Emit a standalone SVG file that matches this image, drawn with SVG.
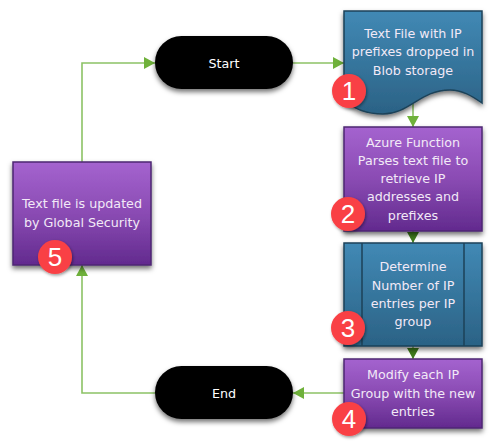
<svg xmlns="http://www.w3.org/2000/svg" width="498" height="441" viewBox="0 0 498 441">
<defs>
<linearGradient id="purple" x1="0" y1="0" x2="0" y2="1"><stop offset="0" stop-color="#a463cf"/><stop offset="0.5" stop-color="#8a4bb3"/><stop offset="1" stop-color="#622a8e"/></linearGradient>
<linearGradient id="blue" x1="0" y1="0" x2="0" y2="1"><stop offset="0" stop-color="#4189b5"/><stop offset="1" stop-color="#2b6285"/></linearGradient>
<filter id="shadow" x="-15%" y="-15%" width="130%" height="135%"><feDropShadow dx="0" dy="3" stdDeviation="2.5" flood-color="#000" flood-opacity="0.55"/></filter>
<filter id="soft" x="-20%" y="-20%" width="140%" height="140%"><feDropShadow dx="1" dy="1.5" stdDeviation="1.5" flood-color="#000" flood-opacity="0.4"/></filter>
<marker id="arrow" markerWidth="12" markerHeight="12" refX="11" refY="6" orient="auto" markerUnits="userSpaceOnUse"><path d="M0,0 L11,6 L0,12 Z" fill="#6fb13b"/></marker>
<marker id="arrowDark" markerWidth="12" markerHeight="12" refX="11" refY="6" orient="auto" markerUnits="userSpaceOnUse"><path d="M0,0 L11,6 L0,12 Z" fill="#3f7a1c"/></marker>
</defs>
<style>
.c{fill:none;stroke:#8cc265;stroke-width:1.6;marker-end:url(#arrow)}
.p{fill:url(#purple);stroke:#4e2673;stroke-width:1.5;filter:url(#shadow)}
.b{fill:url(#blue);stroke:#1d4258;stroke-width:1.5;filter:url(#shadow)}
.k{fill:#000;filter:url(#shadow)}
.t{font-family:"DejaVu Sans",Verdana,sans-serif;font-size:12.7px;fill:#f2e9f7;text-anchor:middle}
.s{fill:#fff}
.r{fill:#f94144;filter:url(#soft)}
.n{font-family:"Liberation Sans",Arial,sans-serif;font-size:26px;fill:#fff;text-anchor:middle}
.i{stroke:#1d4258;stroke-width:1.5;fill:none}
</style>
<g id="connectors">
<path class="c" d="M82,162 V63 H155"/>
<path class="c" d="M293,63 H344"/>
<path class="c" d="M413,104 V127"/>
<path class="c" style="marker-end:url(#arrowDark)" d="M413,231 V243"/>
<path class="c" style="marker-end:url(#arrowDark)" d="M413,346 V359"/>
<path class="c" d="M344,393 H293"/>
<path class="c" d="M155,393 H82 V265"/>
</g>
<g id="start"><rect class="k" x="155" y="36" width="138" height="53" rx="26.5"/><text class="t s" x="224" y="68">Start</text></g>
<g id="end"><rect class="k" x="155" y="366" width="138" height="53" rx="26.5"/><text class="t s" x="224" y="398">End</text></g>
<g id="node1"><path class="b" d="M344,11 H482 V103 C472,96 462,90 450,90 C420,90 410,114 383,114 C370,114 355,110 344,100 Z"/>
<text class="t" x="413" y="38">Text File with IP</text><text class="t" x="413" y="56">prefixes dropped in</text><text class="t" x="413" y="75">Blob storage</text>
<circle class="r" cx="349" cy="91" r="17"/><text class="n" x="349" y="100">1</text></g>
<g id="node2"><rect class="p" x="344" y="127" width="138" height="104"/>
<text class="t" x="413" y="147">Azure Function</text><text class="t" x="413" y="165">Parses text file to</text><text class="t" x="413" y="183">retrieve IP</text><text class="t" x="413" y="201">addresses and</text><text class="t" x="413" y="220">prefixes</text>
<circle class="r" cx="348" cy="214" r="17"/><text class="n" x="348" y="223">2</text></g>
<g id="node3"><rect class="b" x="344" y="243" width="138" height="103"/><path class="i" d="M362,243 V346 M464,243 V346"/>
<text class="t" x="413" y="271">Determine</text><text class="t" x="413" y="290">Number of IP</text><text class="t" x="413" y="308">entries per IP</text><text class="t" x="413" y="326">group</text>
<circle class="r" cx="348" cy="328" r="17"/><text class="n" x="348" y="337">3</text></g>
<g id="node4"><rect class="p" x="344" y="359" width="138" height="69"/>
<text class="t" x="413" y="379">Modify each IP</text><text class="t" x="413" y="398">Group with the new</text><text class="t" x="413" y="416">entries</text>
<circle class="r" cx="349" cy="419" r="17"/><text class="n" x="349" y="428">4</text></g>
<g id="node5"><rect class="p" x="13" y="162" width="138" height="103"/>
<text class="t" x="82" y="208">Text file is updated</text><text class="t" x="82" y="227">by Global Security</text>
<circle class="r" cx="55" cy="257" r="17"/><text class="n" x="55" y="266">5</text></g>
</svg>
